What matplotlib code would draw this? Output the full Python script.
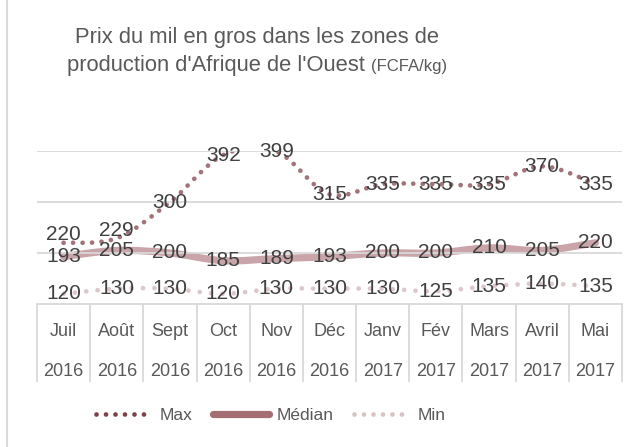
import matplotlib.pyplot as plt
from matplotlib.path import Path
from matplotlib.patches import PathPatch
from matplotlib.lines import Line2D
import numpy as np

plt.rcParams['font.family'] = ['Liberation Sans', 'DejaVu Sans']

mois = ['Juil', 'Août', 'Sept', 'Oct', 'Nov', 'Déc', 'Janv', 'Fév', 'Mars', 'Avril', 'Mai']
annees = ['2016', '2016', '2016', '2016', '2016', '2016', '2017', '2017', '2017', '2017', '2017']
prix_max = [220, 229, 300, 392, 399, 315, 335, 335, 335, 370, 335]
prix_median = [193, 205, 200, 185, 189, 193, 200, 200, 210, 205, 220]
prix_min = [120, 130, 130, 120, 130, 130, 130, 125, 135, 140, 135]

col_max = '#a27379'
col_med = '#c9a4a8'
col_min = '#dcc8ca'
col_txt = '#404040'
col_grid = '#d9d9d9'


def courbe_lisse(xs, ys):
	# bezier facon Excel (lissage)
	pts = np.column_stack([xs, ys]).astype(float)
	n = len(pts)
	verts = [pts[0]]
	codes = [Path.MOVETO]
	for i in range(n - 1):
		p0 = pts[i - 1] if i > 0 else pts[i]
		p1 = pts[i]
		p2 = pts[i + 1]
		p3 = pts[i + 2] if i + 2 < n else pts[i + 1]
		verts += [p1 + (p2 - p0) / 6, p2 - (p3 - p1) / 6, p2]
		codes += [Path.CURVE4] * 3
	return Path(verts, codes)


fig = plt.figure(figsize=(6.42, 4.47), dpi=100)
ax = fig.add_axes([37 / 642, 143 / 447, 585 / 642, 153 / 447])

x = np.arange(len(mois))

series = [
	(prix_min, col_min, 3.4, (0, (0.01, 2.4))),
	(prix_median, col_med, 5.2, 'solid'),
	(prix_max, col_max, 3.4, (0, (0.01, 2.0))),
]
for vals, c, lw, ls in series:
	patch = PathPatch(courbe_lisse(x, vals), facecolor='none', edgecolor=c,
					  lw=lw, linestyle=ls, capstyle='round', joinstyle='round')
	ax.add_patch(patch)

for vals in (prix_max, prix_median, prix_min):
	for xi, v in zip(x, vals):
		dy = 0
		if vals is prix_max and xi < 2:
			dy = 8
		ax.annotate(str(v), (xi, v), xytext=(0, dy), textcoords='offset pixels',
					ha='center', va='center', fontsize=15, color=col_txt)

ax.set_xlim(-0.5, len(mois) - 0.5)
ax.set_ylim(100, 400)
ax.set_yticks([200, 300, 400])
ax.yaxis.grid(True, color=col_grid, lw=1.3)
ax.tick_params(axis='y', left=False, labelleft=False)
for s in ['top', 'right', 'left']:
	ax.spines[s].set_visible(False)
ax.spines['bottom'].set_color(col_grid)
ax.spines['bottom'].set_linewidth(1.3)

ax.set_xticks(x)
ax.set_xticklabels([m + '\n' + a for m, a in zip(mois, annees)],
				   fontsize=13, color='#595959', linespacing=2.75)
ax.tick_params(axis='x', which='major', length=0, pad=14)
ax.set_xticks(np.arange(len(mois) + 1) - 0.5, minor=True)
ax.tick_params(axis='x', which='minor', length=56, width=1.3, color=col_grid)

# titre centre vers x=257 px
xc = 257
fig.text(xc / 642, 1 - 38 / 447, "Prix du mil en gros dans les zones de",
		 ha='center', va='center', fontsize=15.8, color='#595959')
ligne2 = fig.text(0, 0, "production d'Afrique de l'Ouest ", fontsize=15.8, color='#595959')
unite = fig.text(0, 0, "(FCFA/kg)", fontsize=12, color='#595959')
fig.canvas.draw()
r = fig.canvas.get_renderer()
w1 = ligne2.get_window_extent(r).width
w2 = unite.get_window_extent(r).width
x0 = xc - (w1 + w2) / 2
ligne2.set_position((x0 / 642, 1 - 66 / 447))
ligne2.set_va('center')
unite.set_position(((x0 + w1) / 642, 1 - 66 / 447))
unite.set_va('center')

handles = [
	Line2D([], [], color='#7b4248', lw=3.4, linestyle=(0, (0.01, 2.0)), dash_capstyle='round'),
	Line2D([], [], color='#a46e72', lw=5.2, solid_capstyle='round'),
	Line2D([], [], color='#d7c2c4', lw=3.4, linestyle=(0, (0.01, 2.0)), dash_capstyle='round'),
]
fig.legend(handles, ['Max', 'Médian', 'Min'], loc='center', bbox_to_anchor=(271 / 642, 1 - 415 / 447),
		   ncol=3, frameon=False, fontsize=12.5, labelcolor='#595959',
		   handlelength=3.2, columnspacing=1.2, handletextpad=0.45)

fig.add_artist(Line2D([7 / 642, 7 / 642], [0, 1], color=col_grid, lw=1.5))

fig.savefig('out.png', dpi=100)
